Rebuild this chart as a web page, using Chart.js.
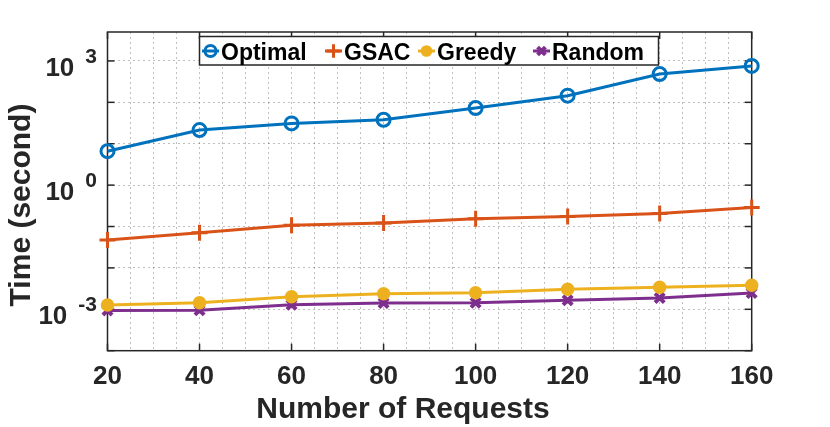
<!DOCTYPE html>
<html>
<head>
<meta charset="utf-8">
<script src="https://cdn.jsdelivr.net/npm/chart.js@4.4.1/dist/chart.umd.min.js"></script>
<style>
    body { margin: 0; background: #fff; }
    canvas { display: block; }
</style>
</head>
<body>
<canvas id="timeChart" width="830" height="427"></canvas>
<script>
const requests = [20, 40, 60, 80, 100, 120, 140, 160];
const optimal = [6.6, 21.4, 31, 38, 73, 145, 484, 757];
const gsac = [0.047, 0.071, 0.108, 0.122, 0.153, 0.174, 0.206, 0.287];
const greedy = [0.00127, 0.00144, 0.00202, 0.00238, 0.00252, 0.00304, 0.0034, 0.0038];
const random = [0.00094, 0.00095, 0.00129, 0.00142, 0.00144, 0.00165, 0.00187, 0.00248];

const yDecades = [1e-4, 1e-3, 1e-2, 1e-1, 1, 10, 100, 1000];
const yLabelExps = [-3, 0, 3];

const FONT = "'Liberation Sans', Arial, Helvetica, sans-serif";
const AXIS = "#262626";

function pts(values) {
    return requests.map((r, i) => ({ x: r, y: values[i] }));
}

function line(ctx, x1, y1, x2, y2) {
    ctx.beginPath();
    ctx.moveTo(x1, y1);
    ctx.lineTo(x2, y2);
    ctx.stroke();
}

// axis box and inward tick marks, drawn under the data like matlab
const boxPlugin = {
    id: "box",
    beforeDatasetsDraw(chart) {
        const ctx = chart.ctx;
        const { left, right, top, bottom } = chart.chartArea;
        const xs = chart.scales.x, ys = chart.scales.y;
        ctx.save();
        ctx.strokeStyle = AXIS;
        ctx.lineWidth = 1.5;
        ctx.strokeRect(left, top, right - left, bottom - top);
        requests.forEach(v => {
            const px = xs.getPixelForValue(v);
            line(ctx, px, bottom, px, bottom - 7);
            line(ctx, px, top, px, top + 7);
        });
        yDecades.forEach(v => {
            const py = ys.getPixelForValue(v);
            line(ctx, left, py, left + 7, py);
            line(ctx, right, py, right - 7, py);
        });
        ctx.restore();
    },
    afterDraw(chart) {
        const ctx = chart.ctx;
        const ys = chart.scales.y;
        ctx.save();
        ctx.fillStyle = AXIS;
        ctx.textAlign = "right";
        ctx.textBaseline = "alphabetic";

        // 10^n labels
        yLabelExps.forEach(e => {
            const py = ys.getPixelForValue(Math.pow(10, e));
            ctx.font = "bold 21px " + FONT;
            const ew = ctx.measureText(String(e)).width;
            ctx.fillText(String(e), 97, py + 2);
            ctx.font = "bold 26px " + FONT;
            ctx.fillText("10", 97 - ew - 11, py + 15);
        });

        // axis titles
        ctx.textAlign = "center";
        ctx.font = "bold 30px " + FONT;
        ctx.fillText("Number of Requests", 403, 418);
        ctx.save();
        ctx.translate(30, 205);
        ctx.rotate(-Math.PI / 2);
        ctx.fillText("Time (second)", 0, 0);
        ctx.restore();

        // legend
        const legendX = [202, 325, 418, 533];
        const ly = 51;
        ctx.fillStyle = "#fff";
        ctx.fillRect(199.5, 36.5, 459, 28.5);
        ctx.strokeStyle = AXIS;
        ctx.lineWidth = 1.5;
        ctx.strokeRect(199.5, 36.5, 459, 28.5);
        ctx.textAlign = "left";
        ctx.font = "bold 23px " + FONT;
        chart.data.datasets.forEach((ds, i) => {
            const x0 = legendX[i];
            ctx.strokeStyle = ds.borderColor;
            ctx.lineWidth = ds.borderWidth;
            line(ctx, x0, ly, x0 + 17, ly);
            ctx.fillStyle = ds.pointBackgroundColor;
            ctx.strokeStyle = ds.pointBorderColor;
            ctx.lineWidth = ds.pointBorderWidth;
            Chart.helpers.drawPoint(ctx, {
                pointStyle: ds.pointStyle,
                radius: ds.pointRadius * 0.85,
                rotation: 0,
                borderWidth: ds.pointBorderWidth
            }, x0 + 8.5, ly);
            ctx.fillStyle = "#000";
            ctx.fillText(ds.label, x0 + 19, 60);
        });
        ctx.restore();
    }
};

function series(label, values, color, style, radius, bw, fill) {
    return {
        label: label,
        data: pts(values),
        borderColor: color,
        borderWidth: 3,
        pointStyle: style,
        pointRadius: radius,
        pointBorderWidth: bw,
        pointBorderColor: color,
        pointBackgroundColor: fill,
        pointHoverRadius: radius,
        tension: 0,
        clip: false
    };
}

new Chart(document.getElementById("timeChart"), {
    type: "line",
    data: {
        datasets: [
            series("Optimal", optimal, "#0072BD", "circle", 6.5, 3, "rgba(0,0,0,0)"),
            series("GSAC", gsac, "#D95319", "cross", 8, 3, "#D95319"),
            series("Greedy", greedy, "#EDB120", "circle", 6, 1.5, "#EDB120"),
            series("Random", random, "#7E2F8E", "crossRot", 6.5, 4, "#7E2F8E")
        ]
    },
    options: {
        responsive: false,
        animation: false,
        devicePixelRatio: 1,
        layout: { padding: { top: 32, right: 78.3, left: 0, bottom: 0 } },
        plugins: {
            legend: { display: false },
            tooltip: { enabled: false }
        },
        scales: {
            x: {
                type: "linear",
                min: 20,
                max: 160,
                afterFit: s => { s.height = 76.3; },
                ticks: {
                    stepSize: 5,
                    autoSkip: false,
                    maxRotation: 0,
                    padding: 11,
                    color: AXIS,
                    font: { family: FONT, size: 26, weight: "bold" },
                    callback: v => (v % 20 === 0 ? v : "")
                },
                grid: { color: "rgba(0,0,0,0.25)", lineWidth: 1, drawTicks: false },
                border: { display: false, dash: [2, 3] }
            },
            y: {
                type: "logarithmic",
                min: 1e-4,
                max: 5000,
                afterFit: s => { s.width = 107.5; },
                afterBuildTicks: s => { s.ticks = yDecades.map(v => ({ value: v })); },
                ticks: { display: false },
                grid: { color: "rgba(0,0,0,0.25)", lineWidth: 1, drawTicks: false },
                border: { display: false, dash: [2, 3] }
            }
        }
    },
    plugins: [boxPlugin]
});
</script>
</body>
</html>
